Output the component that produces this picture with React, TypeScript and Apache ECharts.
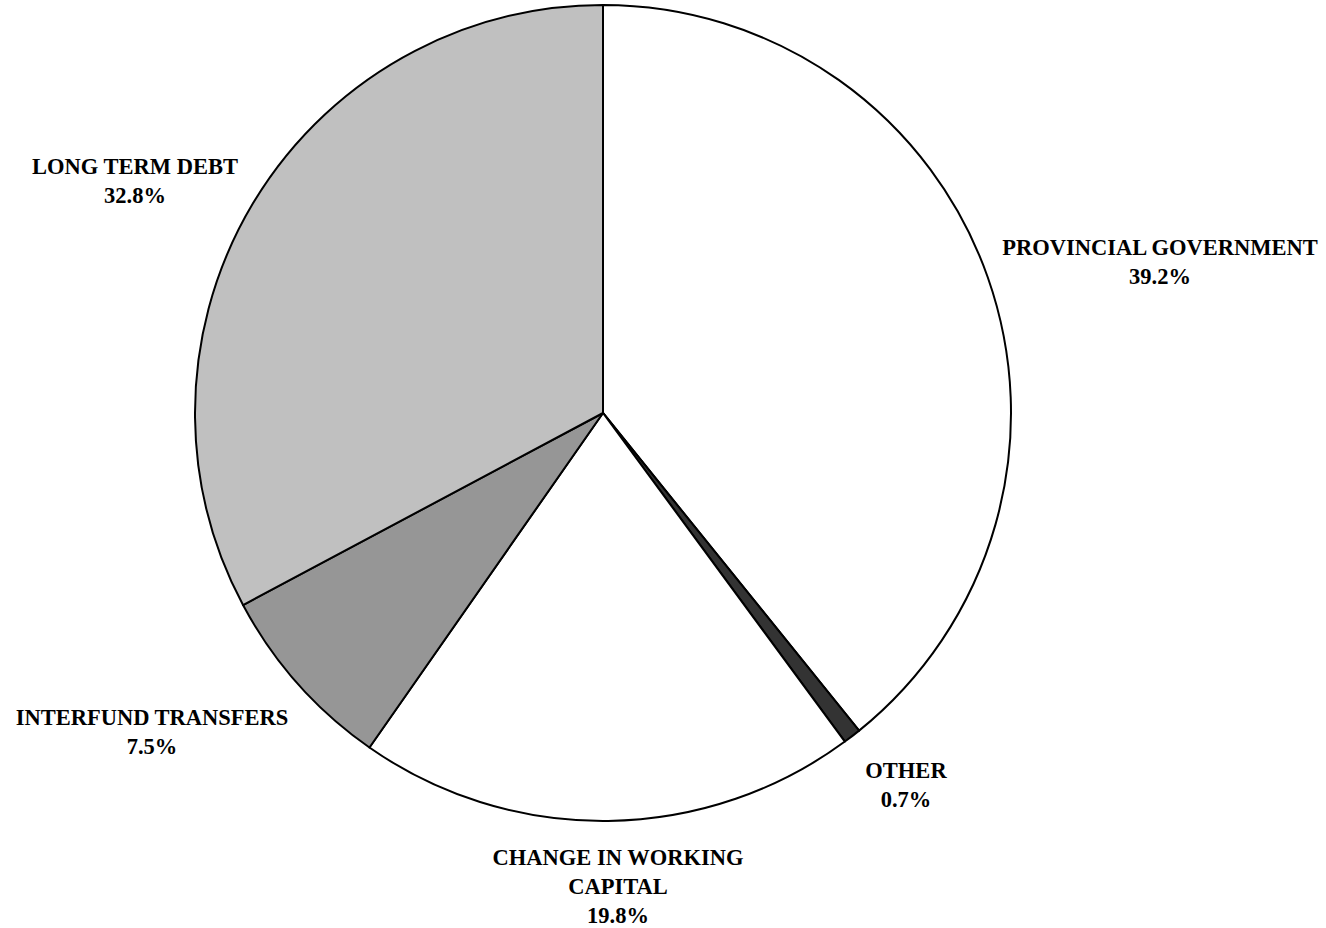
import React, { useEffect, useRef } from "react";
import * as echarts from "echarts";

const categories = [
  "PROVINCIAL GOVERNMENT",
  "OTHER",
  "CHANGE IN WORKING\nCAPITAL",
  "INTERFUND TRANSFERS",
  "LONG TERM DEBT",
];
const values = [39.2, 0.7, 19.8, 7.5, 32.8];
const sliceColors = ["#ffffff", "#333333", "#ffffff", "#969696", "#c0c0c0"];
// label anchor points (pixel positions of label block centers)
const labelPos: [number, number][] = [
  [1160, 262],
  [906, 785],
  [618, 886],
  [152, 732],
  [135, 181],
];

export default function App() {
  const ref = useRef<HTMLDivElement>(null);
  useEffect(() => {
    if (!ref.current) return;
    const chart = echarts.init(ref.current, undefined, { renderer: "svg" });
    chart.setOption({
      animation: false,
      backgroundColor: "#ffffff",
      series: [
        {
          type: "pie",
          center: [603, 413],
          radius: 408,
          startAngle: 90,
          clockwise: true,
          avoidLabelOverlap: false,
          data: categories.map((c, i) => ({
            name: c,
            value: values[i],
            itemStyle: { color: sliceColors[i] },
          })),
          itemStyle: { borderColor: "#000000", borderWidth: 2 },
          label: {
            show: true,
            position: "outside",
            formatter: (p: any) => `${p.name}\n${p.value.toFixed(1)}%`,
            fontFamily: "Liberation Serif",
            fontWeight: "bold",
            fontSize: 22.5,
            lineHeight: 29,
            color: "#000000",
            align: "center",
          },
          labelLine: { show: false },
          labelLayout: (params: any) => {
            const p = labelPos[params.dataIndex];
            return { x: p[0], y: p[1], align: "center", verticalAlign: "middle" };
          },
          emphasis: { disabled: true },
        },
      ],
    });
    return () => chart.dispose();
  }, []);
  return (
    <div
      ref={ref}
      style={{ position: "fixed", left: 0, top: 0, width: 1326, height: 928 }}
    />
  );
}
